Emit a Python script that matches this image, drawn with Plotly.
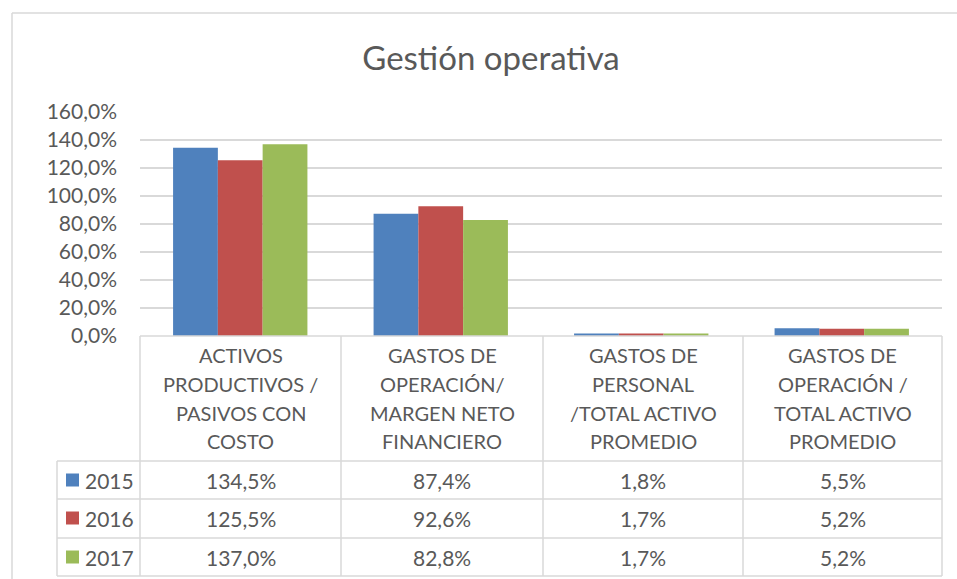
import plotly.graph_objects as go

categories = [
    "ACTIVOS PRODUCTIVOS / PASIVOS CON COSTO",
    "GASTOS DE OPERACIÓN/ MARGEN NETO FINANCIERO",
    "GASTOS DE PERSONAL /TOTAL ACTIVO PROMEDIO",
    "GASTOS DE OPERACIÓN / TOTAL ACTIVO PROMEDIO",
]
category_lines = [
    ["ACTIVOS", "PRODUCTIVOS /", "PASIVOS CON", "COSTO"],
    ["GASTOS DE", "OPERACIÓN/", "MARGEN NETO", "FINANCIERO"],
    ["GASTOS DE", "PERSONAL", "/TOTAL ACTIVO", "PROMEDIO"],
    ["GASTOS DE", "OPERACIÓN /", "TOTAL ACTIVO", "PROMEDIO"],
]
series_names = ["2015", "2016", "2017"]
values_2015 = [134.5, 87.4, 1.8, 5.5]
values_2016 = [125.5, 92.6, 1.7, 5.2]
values_2017 = [137.0, 82.8, 1.7, 5.2]
series_values = [values_2015, values_2016, values_2017]
colors = ["#4F81BD", "#C0504D", "#9BBB59"]
y_ticks = [0, 20, 40, 60, 80, 100, 120, 140, 160]

W, H = 957, 579
L, R, T, B = 140, 942, 112, 336
FONT = "Lato, Carlito, Calibri, sans-serif"
TXT = "#595959"
LINE = "#d9d9d9"


def px(x):
    return (x - L) / (R - L)


def py(y):
    return (B - y) / (B - T)


def fmt(v):
    return f"{v:.1f}".replace(".", ",") + "%"


fig = go.Figure()
for name, vals, col in zip(series_names, series_values, colors):
    fig.add_trace(go.Bar(x=categories, y=vals, name=name, marker_color=col,
                         marker_line_width=0, showlegend=False))

shapes = []
annotations = []

# outer chart border (left and top)
shapes.append(dict(type="line", xref="paper", yref="paper", x0=px(12), x1=px(957),
                   y0=py(13), y1=py(13), line=dict(color=LINE, width=1.5)))
shapes.append(dict(type="line", xref="paper", yref="paper", x0=px(12), x1=px(12),
                   y0=py(13), y1=py(579), line=dict(color=LINE, width=1.5)))

# data table grid
col_edges = [140, 341, 543, 743, 942]
row_edges = [461, 499, 538, 576]
shapes.append(dict(type="line", xref="paper", yref="paper", x0=px(140), x1=px(942),
                   y0=py(336), y1=py(336), line=dict(color=LINE, width=1.5)))
for ry in row_edges:
    shapes.append(dict(type="line", xref="paper", yref="paper", x0=px(57), x1=px(942),
                       y0=py(ry), y1=py(ry), line=dict(color=LINE, width=1.5)))
for cx in col_edges:
    shapes.append(dict(type="line", xref="paper", yref="paper", x0=px(cx), x1=px(cx),
                       y0=py(336), y1=py(576), line=dict(color=LINE, width=1.5)))
shapes.append(dict(type="line", xref="paper", yref="paper", x0=px(57), x1=px(57),
                   y0=py(461), y1=py(576), line=dict(color=LINE, width=1.5)))

# category header text
line_y = [355, 384, 413, 441]
for i, lines in enumerate(category_lines):
    cx = (col_edges[i] + col_edges[i + 1]) / 2
    for ln, ly in zip(lines, line_y):
        annotations.append(dict(xref="paper", yref="paper", x=px(cx), y=py(ly),
                                text=ln, showarrow=False, xanchor="center", yanchor="middle",
                                font=dict(family=FONT, size=20, color=TXT)))

# value rows + legend keys
row_y = [480, 518, 557]
for s, (name, vals, col) in enumerate(zip(series_names, series_values, colors)):
    ry = row_y[s]
    shapes.append(dict(type="rect", xref="paper", yref="paper", x0=px(66), x1=px(79),
                       y0=py(ry - 6.5), y1=py(ry + 6.5), fillcolor=col, line=dict(width=0)))
    annotations.append(dict(xref="paper", yref="paper", x=px(83), y=py(ry), text=name,
                            showarrow=False, xanchor="left", yanchor="middle",
                            font=dict(family=FONT, size=21, color=TXT)))
    for i, v in enumerate(vals):
        cx = (col_edges[i] + col_edges[i + 1]) / 2
        annotations.append(dict(xref="paper", yref="paper", x=px(cx), y=py(ry), text=fmt(v),
                                showarrow=False, xanchor="center", yanchor="middle",
                                font=dict(family=FONT, size=21, color=TXT)))

fig.update_layout(
    width=W, height=H,
    margin=dict(l=L, r=W - R, t=T, b=H - B, pad=0),
    paper_bgcolor="white", plot_bgcolor="white",
    separators=",.",
    barmode="group", bargap=0.33, bargroupgap=0,
    title=dict(text="Gestión operativa", x=px(491), xref="paper", xanchor="center",
               y=1 - 58 / H, yanchor="middle",
               font=dict(family=FONT, size=33, color=TXT)),
    xaxis=dict(showticklabels=False, showgrid=False, zeroline=False, showline=False,
               ticks=""),
    yaxis=dict(range=[0, 160], tickvals=y_ticks, ticktext=[fmt(v) for v in y_ticks],
               showgrid=True, gridcolor=LINE, gridwidth=1.5, zeroline=False,
               showline=False, ticks="", ticklabelstandoff=22,
               tickfont=dict(family=FONT, size=21, color=TXT)),
    shapes=shapes,
    annotations=annotations,
    font=dict(family=FONT, color=TXT),
)

fig.write_html("out.html", config={"displayModeBar": False},
               post_script="document.body.style.margin='0';document.body.style.overflow='hidden';")
